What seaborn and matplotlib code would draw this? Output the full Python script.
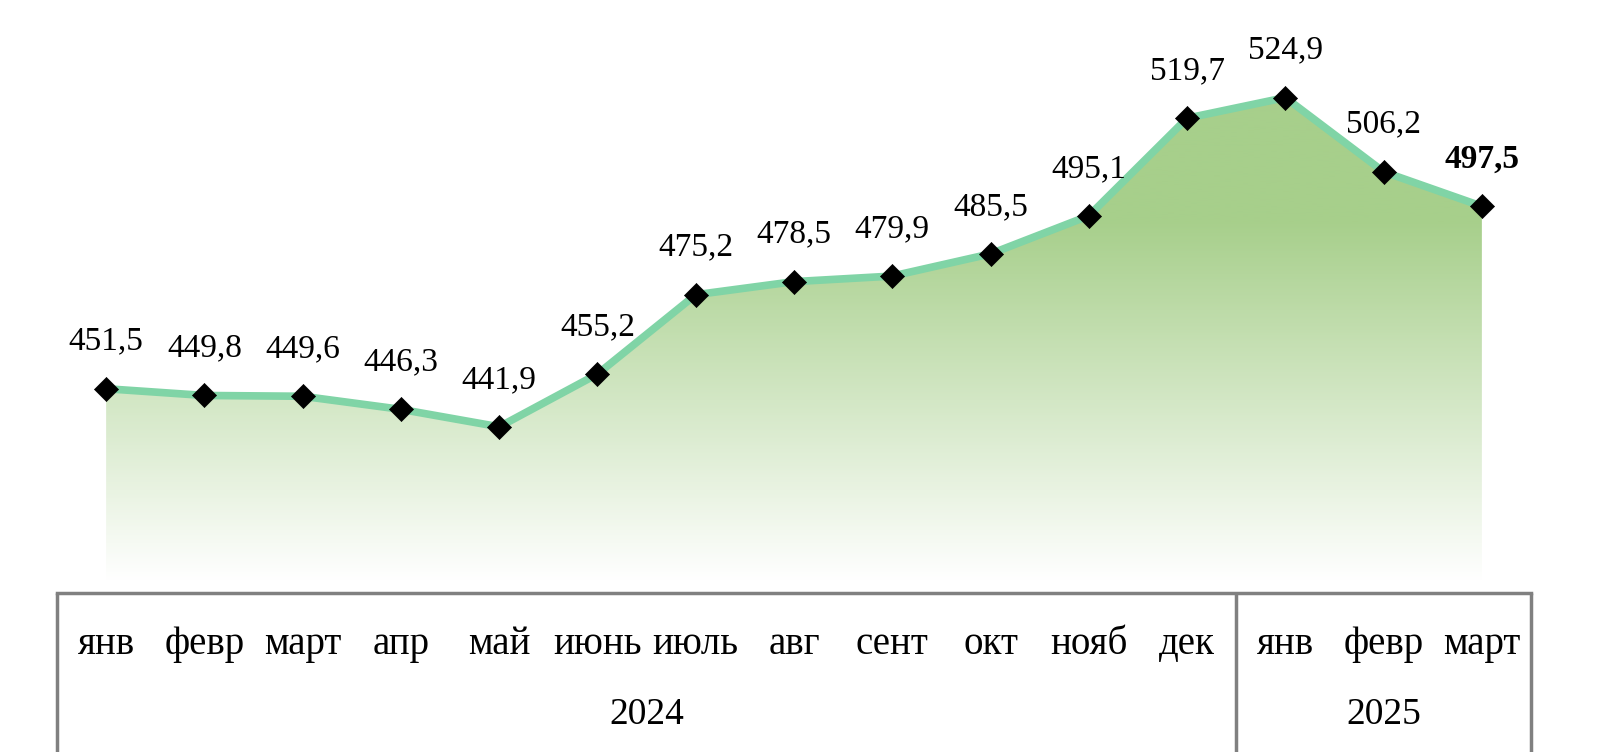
import numpy as np
import pandas as pd
import matplotlib
matplotlib.use('Agg')
import matplotlib.pyplot as plt
import matplotlib.transforms as mtransforms
from matplotlib.colors import LinearSegmentedColormap
import seaborn as sns

# --- dados ---
meses = ['янв', 'февр', 'март', 'апр', 'май', 'июнь', 'июль', 'авг',
         'сент', 'окт', 'нояб', 'дек', 'янв', 'февр', 'март']
valores = [451.5, 449.8, 449.6, 446.3, 441.9, 455.2, 475.2, 478.5,
           479.9, 485.5, 495.1, 519.7, 524.9, 506.2, 497.5]
anos = ['2024', '2025']
meses_por_ano = [12, 3]

df = pd.DataFrame({'pos': np.arange(len(valores)), 'valor': valores})

sns.set_style('white')
plt.rcParams['font.family'] = ['Liberation Serif', 'DejaVu Serif']
plt.rcParams['text.color'] = 'black'
plt.rcParams['xtick.color'] = 'black'

fig = plt.figure(figsize=(16, 7.52), dpi=100)
ax = fig.add_axes([57 / 1600, 1 - 593 / 752, (1531 - 57) / 1600, 593 / 752])

y_min, y_max = 400, 549.5
n = len(valores)
ax.set_xlim(-0.5, n - 0.5)
ax.set_ylim(y_min, y_max)

# preenchimento com gradiente (branco embaixo -> verde em cima)
cmap = LinearSegmentedColormap.from_list('verde', ['#ffffff', '#a7cf8b'])
ys = np.linspace(y_min, y_max, 400)
grad = np.clip((ys - 403) / (494 - 403), 0, 1).reshape(-1, 1)
img = ax.imshow(grad, extent=[-0.5, n - 0.5, y_min, y_max], origin='lower',
                aspect='auto', cmap=cmap, vmin=0, vmax=1, zorder=1)
poly = ax.fill_between(df['pos'], df['valor'], y_min, color='none', lw=0)
img.set_clip_path(poly.get_paths()[0], ax.transData)

# linha e marcadores
sns.lineplot(data=df, x='pos', y='valor', color='#80d4a6', linewidth=5.5, ax=ax, zorder=3)
sns.scatterplot(data=df, x='pos', y='valor', marker='D', color='black', s=150,
                edgecolor='black', linewidth=0.5, ax=ax, zorder=4)

# rótulos de dados
for i, v in enumerate(valores):
    txt = f'{v:.1f}'.replace('.', ',')
    ax.annotate(txt, (i, v), xytext=(0, 34), textcoords='offset points',
                ha='center', va='center', fontsize=24, color='black',
                fontweight='bold' if i == n - 1 else 'normal')

# eixo / tabela
ax.set_xlabel('')
ax.set_ylabel('')
ax.set_yticks([])
ax.set_xticks(range(n))
ax.set_xticklabels(meses, fontsize=28, va='center', color='black')
ax.tick_params(axis='x', length=0, pad=37)
for s in ['top', 'left', 'right']:
    ax.spines[s].set_visible(False)
ax.spines['bottom'].set_color('#808080')
ax.spines['bottom'].set_linewidth(2.5)

trans = mtransforms.blended_transform_factory(ax.transData, ax.transAxes)
limites = [-0.5]
for m in meses_por_ano:
    limites.append(limites[-1] + m)
for x in limites:
    ax.plot([x, x], [0, -0.3], transform=trans, color='#808080', lw=2.5,
            clip_on=False, solid_capstyle='butt')
for i, ano in enumerate(anos):
    centro = (limites[i] + limites[i + 1]) / 2
    ax.text(centro, -0.205, ano, transform=trans, ha='center', va='center',
            fontsize=27, color='black')

fig.savefig('out.png', dpi=100)
